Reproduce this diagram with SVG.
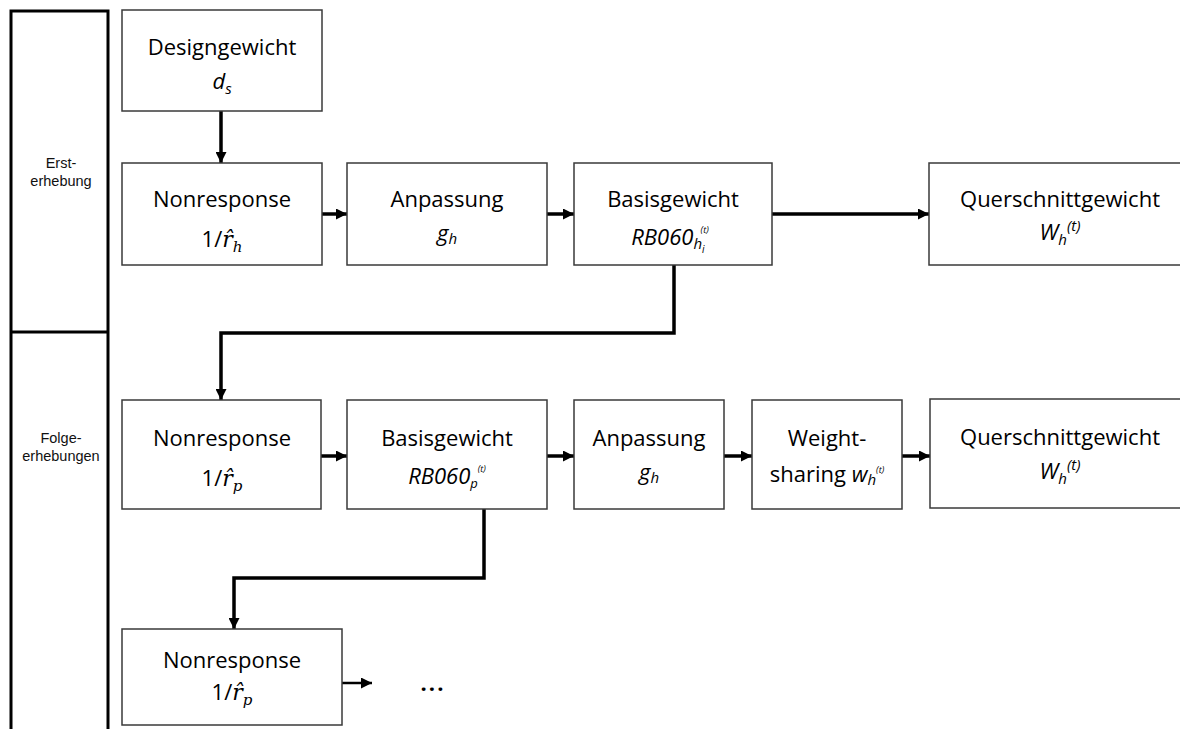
<svg xmlns="http://www.w3.org/2000/svg" width="1180" height="729" viewBox="0 0 1180 729">
<style>
.box{fill:#fff;stroke:#3a3a3a;stroke-width:1.5}
.t{font-family:"Open Sans","Liberation Sans",sans-serif;font-size:22px;fill:#000;text-anchor:middle}
.it{font-style:italic}
.m{font-family:"DejaVu Serif","Liberation Serif",serif;font-style:italic}
.lbl{font-family:"Liberation Sans",Arial,sans-serif;font-size:14.5px;fill:#111;text-anchor:middle}
.lane{fill:none;stroke:#000;stroke-width:3}
.c{fill:none;stroke:#000;stroke-width:3.5}
</style>
<defs>
<marker id="ah" markerUnits="userSpaceOnUse" markerWidth="11" markerHeight="11" refX="11" refY="5.5" orient="auto">
<path d="M0,0 L11,5.5 L0,11 z" fill="#000"/>
</marker>
</defs>
<rect width="1180" height="729" fill="#fff"/>
<g id="lanes">
<path class="lane" d="M11,729 V11 H108 V729"/>
<line class="lane" x1="11" y1="332" x2="108" y2="332"/>
<text class="lbl" x="61" y="168">Erst-</text>
<text class="lbl" x="61" y="186">erhebung</text>
<text class="lbl" x="61" y="443">Folge-</text>
<text class="lbl" x="61" y="461">erhebungen</text>
</g>
<g id="connectors">
<line class="c" x1="221" y1="111" x2="221" y2="163" marker-end="url(#ah)"/>
<line class="c" x1="322" y1="214" x2="347" y2="214" marker-end="url(#ah)"/>
<line class="c" x1="547" y1="214" x2="574" y2="214" marker-end="url(#ah)"/>
<line class="c" x1="772" y1="214" x2="929" y2="214" marker-end="url(#ah)"/>
<path class="c" d="M674,265 V333 H221 V400" marker-end="url(#ah)"/>
<line class="c" x1="321" y1="456" x2="347" y2="456" marker-end="url(#ah)"/>
<line class="c" x1="547" y1="456" x2="574" y2="456" marker-end="url(#ah)"/>
<line class="c" x1="724" y1="456" x2="752" y2="456" marker-end="url(#ah)"/>
<line class="c" x1="902" y1="456" x2="930" y2="456" marker-end="url(#ah)"/>
<path class="c" d="M484,509 V578 H234 V629" marker-end="url(#ah)"/>
<line class="c" style="stroke-width:2.5" x1="342" y1="683" x2="372" y2="683" marker-end="url(#ah)"/>
</g>
<g id="design">
<rect class="box" x="122" y="10" width="200" height="101"/>
<text class="t" x="222" y="55">Designgewicht</text>
<text class="t it" x="222" y="89">d<tspan font-size="15" dy="5">s</tspan></text>
</g>
<g id="nonresponse1">
<rect class="box" x="122" y="163" width="200" height="102"/>
<text class="t" x="222" y="207">Nonresponse</text>
<text class="t" x="222" y="247">1/<tspan class="m">r̂</tspan><tspan class="m" font-size="15" dy="5">h</tspan></text>
</g>
<g id="anpassung1">
<rect class="box" x="347" y="163" width="200" height="102"/>
<text class="t" x="447" y="207">Anpassung</text>
<text class="t it" x="447" y="241">g<tspan font-size="15" dy="3">h</tspan></text>
</g>
<g id="basis1">
<rect class="box" x="574" y="163" width="198" height="102"/>
<text class="t" x="673" y="207">Basisgewicht</text>
<text class="t it" x="670" y="245">RB060<tspan font-size="15" dy="4">h</tspan><tspan font-size="10" dy="4">i</tspan><tspan font-size="9" dx="-4" dy="-20">(t)</tspan></text>
</g>
<g id="quer1">
<rect class="box" x="929" y="163" width="262" height="102"/>
<text class="t" x="1060" y="207">Querschnittgewicht</text>
<text class="t it" x="1060" y="240">W<tspan font-size="15" dy="5">h</tspan><tspan font-size="15" dy="-14">(t)</tspan></text>
</g>
<g id="nonresponse2">
<rect class="box" x="122" y="400" width="199" height="109"/>
<text class="t" x="222" y="446">Nonresponse</text>
<text class="t" x="222" y="486">1/<tspan class="m">r̂</tspan><tspan class="m" font-size="15" dy="5">p</tspan></text>
</g>
<g id="basis2">
<rect class="box" x="347" y="400" width="200" height="109"/>
<text class="t" x="447" y="446">Basisgewicht</text>
<text class="t it" x="447" y="484">RB060<tspan font-size="13" dy="4">p</tspan><tspan font-size="9" dy="-16">(t)</tspan></text>
</g>
<g id="anpassung2">
<rect class="box" x="574" y="400" width="150" height="109"/>
<text class="t" x="649" y="446">Anpassung</text>
<text class="t it" x="649" y="480">g<tspan font-size="15" dy="3">h</tspan></text>
</g>
<g id="weightsharing">
<rect class="box" x="752" y="400" width="150" height="109"/>
<text class="t" x="827" y="446">Weight-</text>
<text class="t" x="827" y="482">sharing <tspan class="it">w</tspan><tspan class="it" font-size="15" dy="3">h</tspan><tspan class="it" font-size="9" dy="-12">(t)</tspan></text>
</g>
<g id="quer2">
<rect class="box" x="930" y="399" width="261" height="109"/>
<text class="t" x="1060" y="445">Querschnittgewicht</text>
<text class="t it" x="1060" y="479">W<tspan font-size="15" dy="5">h</tspan><tspan font-size="15" dy="-14">(t)</tspan></text>
</g>
<g id="nonresponse3">
<rect class="box" x="122" y="629" width="220" height="96"/>
<text class="t" x="232" y="668">Nonresponse</text>
<text class="t" x="232" y="700">1/<tspan class="m">r̂</tspan><tspan class="m" font-size="15" dy="5">p</tspan></text>
</g>
<g id="ellipsis">
<text class="t" x="433" y="691" font-size="24" font-weight="bold" letter-spacing="2">...</text>
</g>
</svg>
